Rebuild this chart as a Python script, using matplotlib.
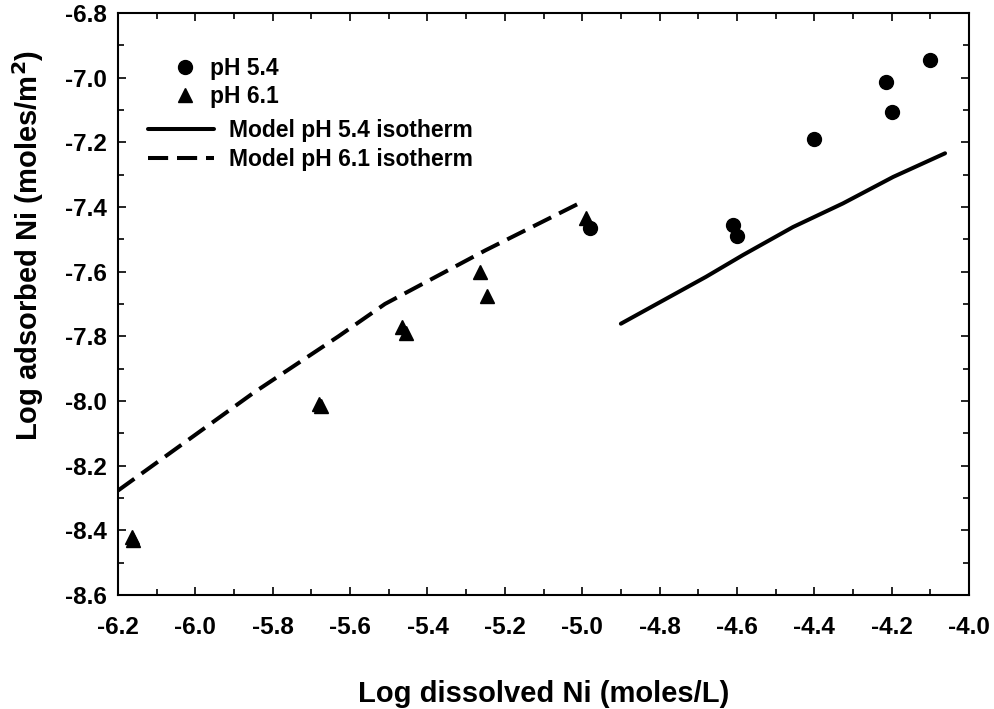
import matplotlib
matplotlib.use("Agg")
import matplotlib.pyplot as plt
from matplotlib.ticker import MultipleLocator, FormatStrFormatter

# measured data, pH 5.4 (circles)
ph54_x = [-4.98, -4.61, -4.60, -4.40, -4.215, -4.20, -4.10]
ph54_y = [-7.465, -7.455, -7.49, -7.19, -7.015, -7.105, -6.945]

# measured data, pH 6.1 (triangles)
ph61_x = [-6.165, -6.16, -5.68, -5.675, -5.465, -5.455, -5.265, -5.245, -4.99]
ph61_y = [-8.42, -8.43, -8.01, -8.015, -7.77, -7.79, -7.60, -7.675, -7.435]

# model isotherms
model54_x = [-4.90, -4.68, -4.585, -4.455, -4.326, -4.196, -4.062]
model54_y = [-7.761, -7.616, -7.549, -7.462, -7.389, -7.307, -7.234]

model61_x = [-6.20, -5.85, -5.63, -5.51, -5.25, -5.06, -5.00]
model61_y = [-8.277, -7.975, -7.80, -7.70, -7.534, -7.42, -7.384]

plt.rcParams['font.family'] = ['Liberation Sans', 'DejaVu Sans']
plt.rcParams['font.weight'] = 'bold'

fig = plt.figure(figsize=(9.95, 7.09), dpi=100)
ax = fig.add_axes([0.1186, 0.1608, 0.8553, 0.8209])

ax.plot(ph54_x, ph54_y, 'o', color='black', markersize=10, label='pH 5.4')
ax.plot(ph61_x, ph61_y, '^', color='black', markersize=10, label='pH 6.1')
ax.plot(model54_x, model54_y, '-', color='black', linewidth=2.9,
        solid_capstyle='round', label='Model pH 5.4 isotherm')
ax.plot(model61_x, model61_y, color='black', linewidth=2.9,
        dashes=(5, 2.2), label='Model pH 6.1 isotherm')

ax.set_xlim(-6.2, -4.0)
ax.set_ylim(-8.6, -6.8)
ax.xaxis.set_major_locator(MultipleLocator(0.2))
ax.xaxis.set_minor_locator(MultipleLocator(0.1))
ax.yaxis.set_major_locator(MultipleLocator(0.2))
ax.yaxis.set_minor_locator(MultipleLocator(0.1))
ax.xaxis.set_major_formatter(FormatStrFormatter('%.1f'))
ax.yaxis.set_major_formatter(FormatStrFormatter('%.1f'))
ax.tick_params(which='both', direction='in', top=True, right=True, width=1.2)
ax.tick_params(which='major', length=6, labelsize=17.5)
ax.tick_params(axis='x', which='major', pad=15)
ax.tick_params(axis='y', which='major', pad=8)
ax.tick_params(which='minor', length=4)
for lab in ax.get_xticklabels() + ax.get_yticklabels():
    lab.set_fontweight('bold')
for sp in ax.spines.values():
    sp.set_linewidth(1.5)

ax.set_xlabel('Log dissolved Ni (moles/L)', fontsize=21, fontweight='bold', labelpad=30)
ax.set_ylabel('Log adsorbed Ni (moles/m$^\\mathbf{2}$)', fontsize=21, fontweight='bold')
ax.yaxis.set_label_coords(-0.085, 0.60)

handles, labels = ax.get_legend_handles_labels()
leg1 = ax.legend(handles[:2], labels[:2], loc='upper left', bbox_to_anchor=(0.065, 0.925),
                 frameon=False, borderpad=0, borderaxespad=0,
                 handlelength=1.0, handletextpad=0.6, labelspacing=0.25,
                 prop={'weight': 'bold', 'size': 16.5})
ax.add_artist(leg1)
ax.legend(handles[2:], labels[2:], loc='upper left', bbox_to_anchor=(0.035, 0.818),
          frameon=False, borderpad=0, borderaxespad=0,
          handlelength=2.9, handletextpad=0.65, labelspacing=0.25,
          prop={'weight': 'bold', 'size': 16.5})

fig.savefig('out.png', dpi=100)
